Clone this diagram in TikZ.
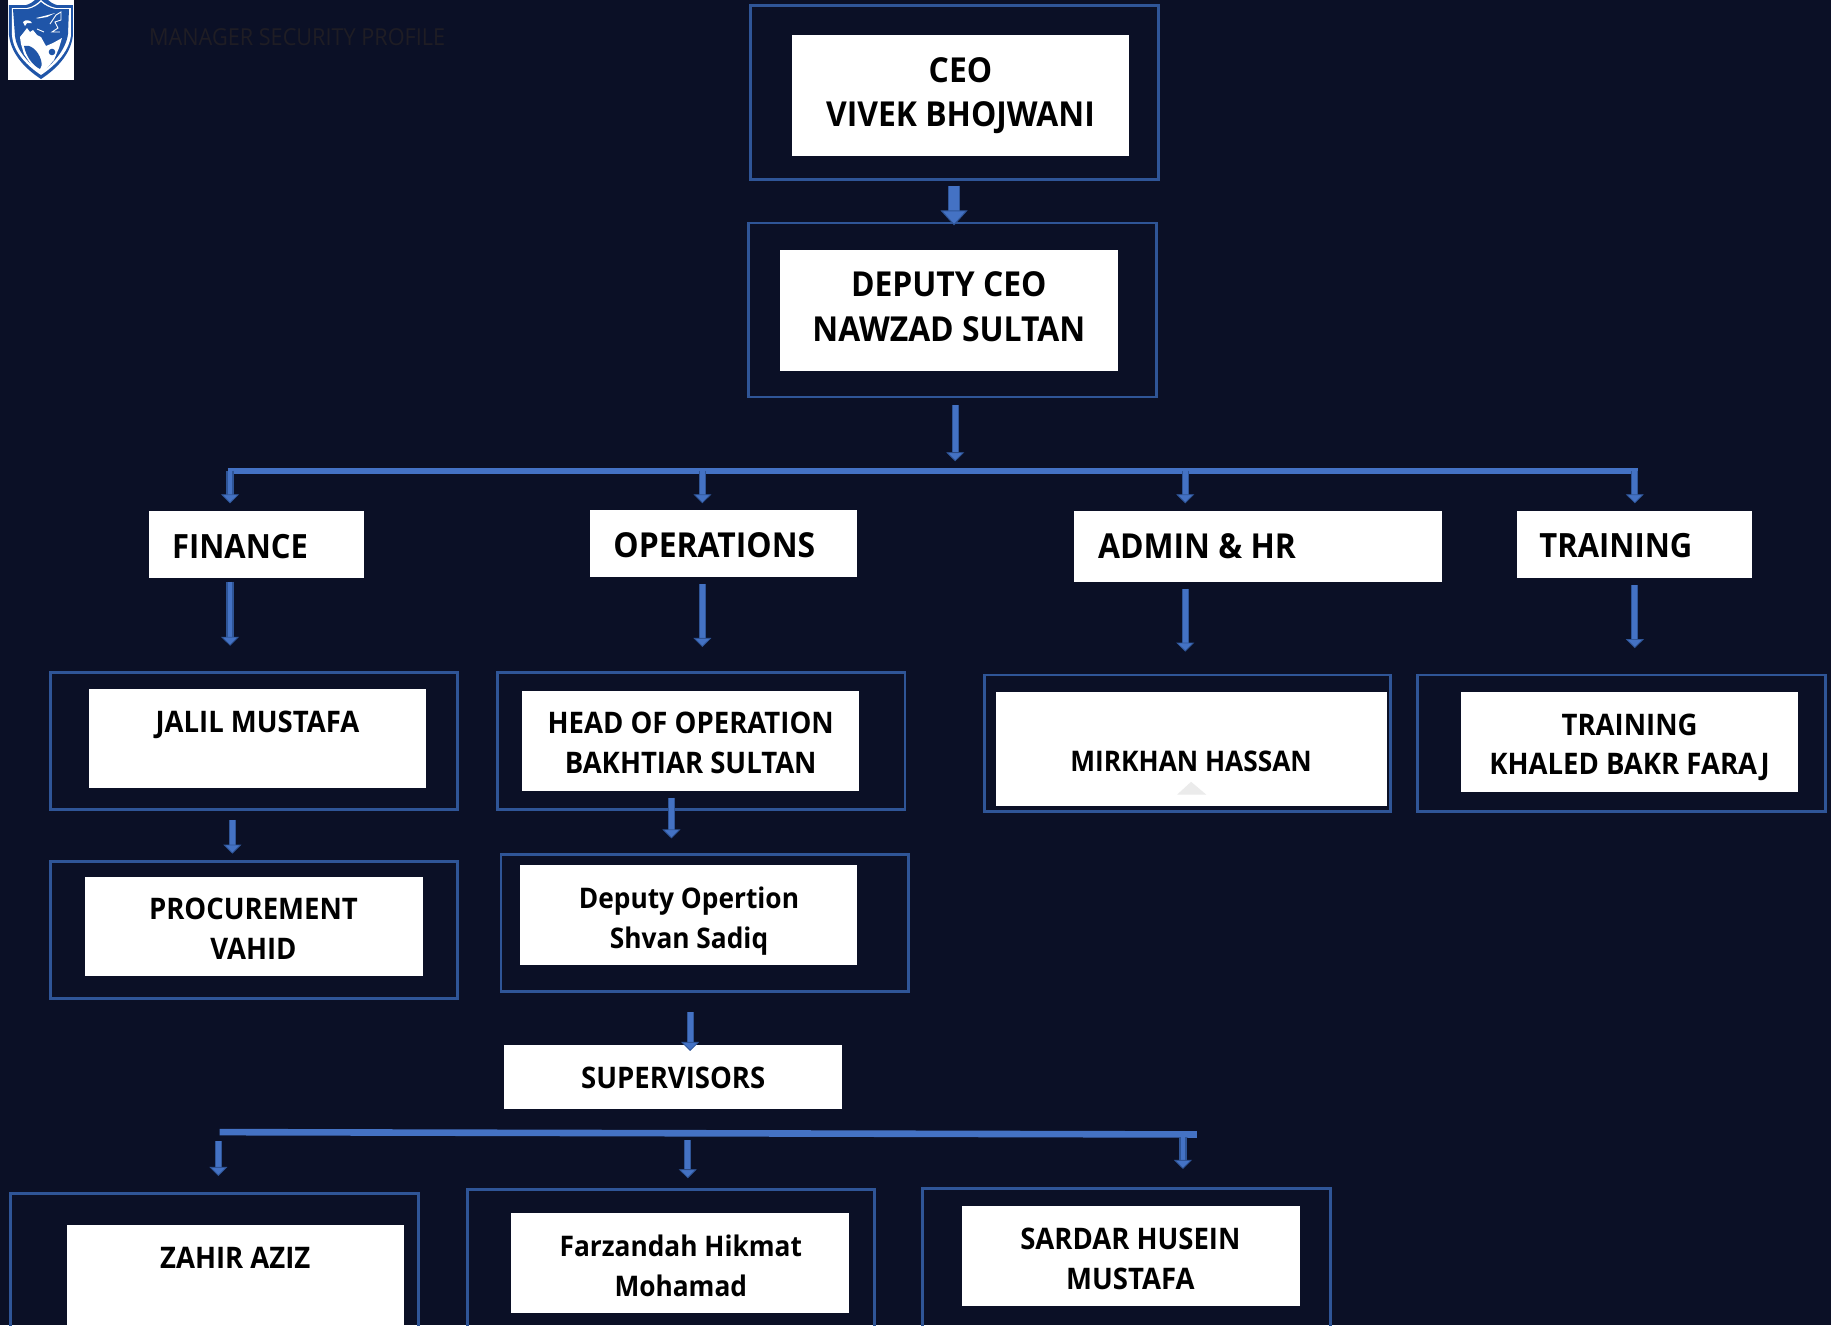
\documentclass[tikz,border=0pt]{standalone}
\usepackage{fontspec}
\setmainfont{Open Sans}[FakeStretch=0.926]
\usetikzlibrary{arrows.meta,fit,calc}
\definecolor{bgc}{HTML}{0B1026}
\definecolor{framec}{HTML}{2F5597}
\definecolor{arrd}{HTML}{2F5597}
\definecolor{arrl}{HTML}{4472C4}
\definecolor{logob}{HTML}{1F55A8}
\definecolor{titlec}{HTML}{1F1D24}
\def\u{0.5839pt}
\tikzset{
 frame/.style={draw=framec,line width=1.45pt,inner sep=0pt,outer sep=0pt},
 wbox/.style={fill=white,draw=none,inner sep=0pt,outer sep=0pt},
 big/.style={font=\fontsize{17.2}{22.2}\selectfont\bfseries,text=black,align=center,inner sep=0pt},
 bigs/.style={font=\fontsize{16.7}{22.2}\selectfont\bfseries,text=black,align=center,inner sep=0pt},
 mid/.style={font=\fontsize{14.85}{19.9}\selectfont\bfseries,text=black,align=center,inner sep=0pt},
 mids/.style={font=\fontsize{14.2}{19.9}\selectfont\bfseries,text=black,align=center,inner sep=0pt},
 arrbig/.style={draw=arrd,double=arrl,double distance=4.6pt,line width=.8pt,-{Triangle[width=13.5pt,length=7.5pt,fill=arrl,line width=.5pt]}},
 arr/.style={draw=arrd,double=arrl,double distance=2.4pt,line width=.6pt,-{Triangle[width=9pt,length=4.5pt,fill=arrl,line width=.4pt]}},
 bus/.style={draw=arrl,line width=3.3pt},
}
\newcommand{\rc}[4]{(#1,#2)(#3,#4)}
\begin{document}
\begin{tikzpicture}[x=0.5839pt,y=-0.5839pt]
\path[use as bounding box,fill=bgc] (0,0) rectangle (1568,1134.7);
\begin{scope}
\clip (0,0) rectangle (1568,1134.7);
% logo
\begin{scope}[x=0.5pt,y=-0.5pt]
\fill[white] (8,0) rectangle (74,80);
\fill[logob] (9,5) -- (26,5) .. controls (30,4) and (33,2) .. (35,0) -- (48,0) .. controls (50,2) and (53,4) .. (57,5) -- (73,5) -- (73,35) .. controls (71,55) and (55,70) .. (41,79) .. controls (27,70) and (11,55) .. (9,35) -- cycle;
\fill[white] (12,8) -- (27,8) .. controls (33,7) and (38,3) .. (41,0) .. controls (44,3) and (50,7) .. (56,8) -- (71,8) -- (71,35) .. controls (69,53) and (53,67) .. (41,75) .. controls (29,67) and (13,53) .. (12,35) -- cycle;
\fill[logob] (13,9) -- (28,9) .. controls (33,8) and (38,5) .. (41,2) .. controls (44,5) and (50,8) .. (55,9) -- (69,9) -- (68,34) .. controls (66,50) and (52,65) .. (41,72) .. controls (30,65) and (16,50) .. (15,36) -- cycle;
% wolf
\fill[white] (20,37) -- (24,32) -- (27,28) -- (30,32) -- (33,30) -- (37,35) -- (41,37) -- (46,46) -- (53,43) -- (62,38) -- (59,48) -- (54,60) -- (47,68) -- (41,74) -- (32,66) -- (24,54) -- (21,44) -- cycle;
\fill[logob] (24,46) .. controls (30,44) and (38,50) .. (41,60) .. controls (42,64) and (42,67) .. (40,69) .. controls (32,65) and (26,56) .. (24,46) -- cycle;
\fill[logob] (52,52) circle (3.3);
\fill[white] (23,22) .. controls (26,19) and (30,20) .. (32,23) -- (27,23) -- (25,26) -- cycle;
\fill[white] (36,18) -- (48,15) -- (55,13) -- (47,17) -- (38,18.5) -- cycle;
\draw[white,line width=.45pt] (50,24) -- (56,15) -- (61,12) -- (61,20) -- (55,22) -- (58,28) -- (52,32) -- (60,32);
\draw[white,line width=.45pt] (37,29) -- (44,32);
\end{scope}
\node[font=\fontsize{11.7}{14}\selectfont,text=titlec,inner sep=0pt] (title) at (254.5,32) {MANAGER SECURITY PROFILE};
% frames
\node[frame,fit={\rc{643}{5}{992}{154}}] (ceoF) {};
\node[wbox,fit={\rc{678}{30}{967}{134}}] (ceoW) {};
\node[big] (ceoT) at (822.5,82) {CEO\\VIVEK BHOJWANI};
\node[frame,fit={\rc{641}{191}{990}{340}}] (depF) {};
\node[wbox,fit={\rc{668}{214}{957}{318}}] (depW) {};
\node[big] (depT) at (812.5,262.5) {DEPUTY CEO\\NAWZAD SULTAN};
% departments
\node[wbox,fit={\rc{128}{438}{312}{495}}] (finW) {};
\node[bigs,anchor=west] (finT) at (147,468) {FINANCE};
\node[wbox,fit={\rc{505}{437}{734}{494}}] (opsW) {};
\node[big,anchor=west] (opsT) at (525,467) {OPERATIONS};
\node[wbox,fit={\rc{920}{438}{1235}{498}}] (admW) {};
\node[big,anchor=west] (admT) at (940,467.5) {ADMIN \& HR};
\node[wbox,fit={\rc{1299}{438}{1500}{495}}] (traW) {};
\node[bigs,anchor=west] (traT) at (1318,467.5) {TRAINING};
% row 2
\node[frame,fit={\rc{43}{576}{392}{693}}] (jalF) {};
\node[wbox,fit={\rc{76}{590}{365}{675}}] (jalW) {};
\node[mid] (jalT) at (220.5,621) {JALIL MUSTAFA};
\node[frame,fit={\rc{426}{576}{775}{693}}] (hopF) {};
\node[wbox,fit={\rc{447}{592}{736}{677}}] (hopW) {};
\node[mid] (hopT) at (591.5,636.5) {HEAD OF OPERATION\\BAKHTIAR SULTAN};
\node[frame,fit={\rc{843}{578}{1191}{695}}] (mirF) {};
\node[wbox,fit={\rc{853}{593}{1188}{690}}] (mirW) {};
\node[mids] (mirT) at (1020,652) {MIRKHAN HASSAN};
\fill[black!8!white] (1008,680.5) -- (1020,669.5) -- (1033,680.5) -- cycle;
\node[frame,fit={\rc{1214}{578}{1563}{695}}] (trnF) {};
\node[wbox,fit={\rc{1251}{593}{1540}{678}}] (trnW) {};
\node[mid] (trnT) at (1395.5,640) {TRAINING\\KHALED BAKR FARAJ};
% row 3
\node[frame,fit={\rc{43}{738}{392}{855}}] (proF) {};
\node[wbox,fit={\rc{73}{751}{362}{836}}] (proW) {};
\node[mid] (proT) at (217,795) {PROCUREMENT\\VAHID};
\node[frame,fit={\rc{429}{732}{778}{849}}] (dopF) {};
\node[wbox,fit={\rc{445}{741}{734}{826}}] (dopW) {};
\node[mids] (dopT) at (590,788.5) {Deputy Opertion\\Shvan Sadiq};
\node[wbox,fit={\rc{432}{895}{721}{950}}] (supW) {};
\node[mid] (supT) at (576.5,923) {SUPERVISORS};
% row 4
\node[frame,fit={\rc{9}{1022}{358}{1160}}] (zahF) {};
\node[wbox,fit={\rc{57}{1049}{346}{1140}}] (zahW) {};
\node[mid] (zahT) at (201.5,1077) {ZAHIR AZIZ};
\node[frame,fit={\rc{400}{1019}{749}{1160}}] (farF) {};
\node[wbox,fit={\rc{438}{1039}{727}{1124}}] (farW) {};
\node[mids] (farT) at (583,1084) {Farzandah Hikmat\\Mohamad};
\node[frame,fit={\rc{790}{1018}{1139}{1160}}] (sarF) {};
\node[wbox,fit={\rc{824}{1033}{1113}{1118}}] (sarW) {};
\node[mid] (sarT) at (968,1078) {SARDAR HUSEIN\\MUSTAFA};
% bus lines
\coordinate (busL) at (195,403.5);
\coordinate (busR) at (1403,403.5);
\coordinate (busT) at (818,347);
\coordinate (busB) at (818,395);
\coordinate (xFin) at (197,403);
\coordinate (xOps) at (601.5,403);
\coordinate (xAdm) at (1015,403);
\coordinate (xTra) at (1400,403);
\coordinate (bus2L) at (188,969.5);
\coordinate (bus2R) at (1025,971.5);
\draw[bus] (busL) -- (busR);
\draw[bus] (bus2L) -- (bus2R);
% connectors
\draw[arrbig] ([yshift=-5*\u]ceoF.south -| 817,0) -- ([yshift=-2*\u]depF.north -| 817,0);
\draw[arr] (busT) -- (busB);
\draw[arr] (xFin) -- ([yshift=7*\u]finW.north -| xFin);
\draw[arr] (xOps) -- ([yshift=6*\u]opsW.north -| xOps);
\draw[arr] (xAdm) -- ([yshift=7*\u]admW.north -| xAdm);
\draw[arr] (xTra) -- ([yshift=7*\u]traW.north -| xTra);
\draw[arr] ([yshift=-3*\u]finW.south -| xFin) -- ([yshift=23*\u]jalF.north -| xFin);
\draw[arr] ([yshift=-6*\u]opsW.south -| xOps) -- ([yshift=22*\u]hopF.north -| xOps);
\draw[arr] ([yshift=-6*\u]admW.south -| xAdm) -- ([yshift=20*\u]mirF.north -| xAdm);
\draw[arr] ([yshift=-6*\u]traW.south -| xTra) -- ([yshift=23*\u]trnF.north -| xTra);
\coordinate (xJal) at (199,700);
\coordinate (xHop) at (575,700);
\coordinate (xDop) at (591,860);
\draw[arr] ([yshift=-9*\u]jalF.south -| xJal) -- ([yshift=7*\u]proF.north -| xJal);
\draw[arr] ([yshift=-6*\u]hopW.south -| xHop) -- ([yshift=14*\u]dopF.north -| xHop);
\draw[arr] ([yshift=-18*\u]dopF.south -| xDop) -- ([yshift=-5*\u]supW.north -| xDop);
\coordinate (xZah) at (187,970);
\coordinate (xFar) at (589,970);
\coordinate (xSar) at (1013,970);
\draw[arr] ([yshift=-8*\u]bus2L -| xZah) -- ([yshift=15*\u]zahF.north -| xZah);
\draw[arr] ([yshift=-7*\u]bus2L -| xFar) -- ([yshift=10*\u]farF.north -| xFar);
\draw[arr] ([yshift=-4*\u]bus2L -| xSar) -- ([yshift=17*\u]sarF.north -| xSar);
\end{scope}
\end{tikzpicture}
\end{document}
